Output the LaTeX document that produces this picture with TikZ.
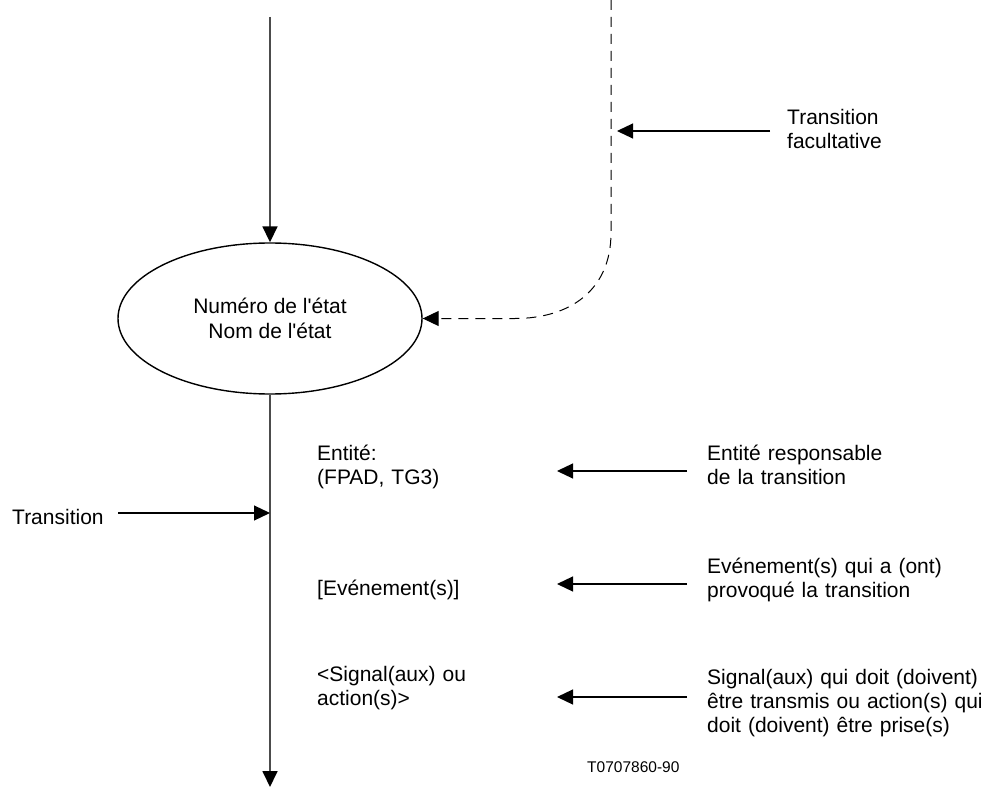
\documentclass[tikz,border=0pt]{standalone}
\usepackage{fontspec}
\setmainfont{Liberation Sans}
\usetikzlibrary{shapes.geometric,arrows.meta}

\begin{document}
\begin{tikzpicture}[x=1pt,y=-1pt,
    txt/.style={font=\fontsize{21}{24}\selectfont, inner sep=0pt, anchor=base west, align=left, text width=#1},
    txt/.default=300pt,
    arr/.style={-{Triangle[length=16pt,width=15pt]}, line width=1.2pt},
    trunk/.style={draw=black!70, line width=1.8pt, -{Triangle[length=16pt,width=15pt,color=black,fill=black]}},
    facult/.style={dash pattern=on 10pt off 7pt, line width=1pt}]

    \useasboundingbox (0,0) rectangle (989,789);

    \node[ellipse, draw, line width=1.4pt, minimum width=304pt, minimum height=151pt, inner sep=0pt, align=center, font=\fontsize{21}{25}\selectfont] (etat) at (270,318.5) {Numéro de l\textquotesingle état\\Nom de l\textquotesingle état};

    \coordinate (haut) at (270,17);
    \coordinate (bas) at (270,787);
    \draw[trunk] (haut) -- (etat.north);
    \draw[trunk] (etat.south) -- (bas);

    \coordinate (dhaut) at (611,0);
    \coordinate (dcoude) at (611,233);
    \coordinate (dbas) at (515,318.5);
    \draw[facult, arr, line width=1pt] (dhaut) -- (dcoude) .. controls (611,290) and (570,318.5) .. (dbas) -- (etat.east);

    \node[txt] (facul) at (787,125) {Transition\\facultative};
    \coordinate (f1) at (770,131);
    \coordinate (f2) at (617,131);
    \draw[arr] (f1) -- (f2);

    \node[txt=150pt] (trans) at (12,524) {Transition};
    \coordinate (t1) at (118,513);
    \coordinate (t2) at (270,513);
    \draw[arr] (t1) -- (t2);

    \node[txt=220pt] (entite) at (317,460) {Entité:\\(FPAD, TG3)};
    \node[txt=220pt] (evt) at (317,595) {[Evénement(s)]};
    \node[txt=220pt] (sig) at (317,681) {<Signal(aux) ou\\action(s)>};

    \node[txt] (resp) at (707,460) {Entité responsable\\de la transition};
    \node[txt] (prov) at (707,573) {Evénement(s) qui a (ont)\\provoqué la transition};
    \node[txt] (emis) at (707,684) {Signal(aux) qui doit (doivent)\\être transmis ou action(s) qui\\doit (doivent) être prise(s)};

    \coordinate (r1) at (687,471);
    \coordinate (l1) at (557,471);
    \coordinate (r2) at (687,584);
    \coordinate (l2) at (557,584);
    \coordinate (r3) at (687,697);
    \coordinate (l3) at (557,697);
    \draw[arr] (r1) -- (l1);
    \draw[arr] (r2) -- (l2);
    \draw[arr] (r3) -- (l3);

    \node[font=\fontsize{15.5}{18}\selectfont, inner sep=0pt, anchor=base west] (ref) at (587,772) {T0707860-90};

\end{tikzpicture}
\end{document}
